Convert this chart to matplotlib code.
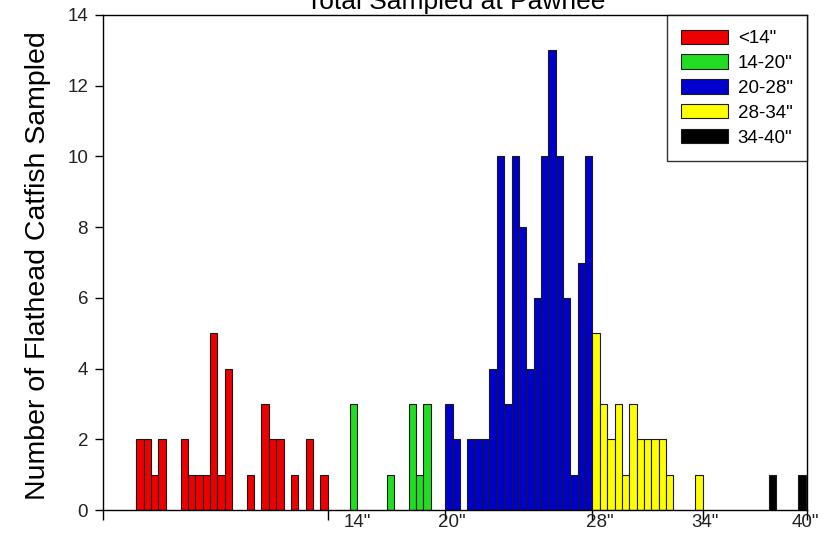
import numpy as np
import matplotlib.pyplot as plt

plt.rcParams['font.family'] = ['Liberation Sans', 'DejaVu Sans']

# length class index (one bar per class) and counts, per size group
red_x = [5, 6, 7, 8, 11, 12, 13, 14, 15, 16, 17, 20, 22, 23, 24, 26, 28, 30]
red_n = [2, 2, 1, 2, 2, 1, 1, 1, 5, 1, 4, 1, 3, 2, 2, 1, 2, 1]
green_x = [34, 39, 42, 43, 44]
green_n = [3, 1, 3, 1, 3]
blue_x = [47, 48, 50, 51, 52, 53, 54, 55, 56, 57, 58, 59, 60, 61, 62, 63, 64, 65, 66]
blue_n = [3, 2, 2, 2, 2, 4, 10, 3, 10, 8, 4, 6, 10, 13, 10, 6, 1, 7, 10]
yellow_x = [67, 68, 69, 70, 71, 72, 73, 74, 75, 76, 77, 81]
yellow_n = [5, 3, 2, 3, 1, 3, 2, 2, 2, 2, 1, 1]
black_x = [91, 95]
black_n = [1, 1]

groups = ['<14"', '14-20"', '20-28"', '28-34"', '34-40"']
colors = ['#ee0000', '#22dd22', '#0000cc', '#ffff00', '#000000']

tick_pos = [0, 30.5, 46.5, 66.5, 81.5, 95.7]          # tick marks
label_pos = [0, 34.5, 47.4, 67.5, 81.8, 95.4]         # where the labels sit
tick_labels = ['0"', '14"', '20"', '28"', '34"', '40"']

fig = plt.figure(figsize=(8.37, 5.47), dpi=100)
ax = fig.add_axes([0.1234, 0.0676, 0.8411, 0.905])

series = [(red_x, red_n), (green_x, green_n), (blue_x, blue_n),
          (yellow_x, yellow_n), (black_x, black_n)]
for (xs, ns), c, lab in zip(series, colors, groups):
    ax.bar(xs, ns, width=1.0, color=c, edgecolor='#1a1a1a', linewidth=0.8, label=lab)

ax.set_xlim(0, 95.7)
ax.set_ylim(0, 14)
ax.set_yticks(np.arange(0, 15, 2))
ax.set_xticks(tick_pos)
ax.set_xticklabels([''] * len(tick_pos))
ax.set_xticks(label_pos, minor=True)
ax.set_xticklabels(tick_labels, minor=True)
ax.tick_params(axis='x', which='major', direction='out', length=7, width=1)
ax.tick_params(axis='x', which='minor', length=0, pad=3, labelsize=13.5, labelcolor='#222222')
ax.tick_params(axis='y', direction='out', length=6, width=1, pad=5, labelsize=13.5, labelcolor='#222222')
for s in ax.spines.values():
    s.set_linewidth(1.0)

leg = ax.legend(loc='upper right', borderaxespad=0, fancybox=False, fontsize=13.5,
                handlelength=2.5, handleheight=0.8, labelspacing=0.38,
                handletextpad=0.5, borderpad=0.78)
leg.get_frame().set_edgecolor('black')
leg.get_frame().set_linewidth(1.0)

fig.text(0.545, 0.9835, 'Total Sampled at Pawnee', ha='center', va='baseline', fontsize=19)
fig.text(0.045, 0.515, 'Number of Flathead Catfish Sampled', rotation=90,
         ha='center', va='center', fontsize=20.5)

fig.savefig('out.png', dpi=100)
